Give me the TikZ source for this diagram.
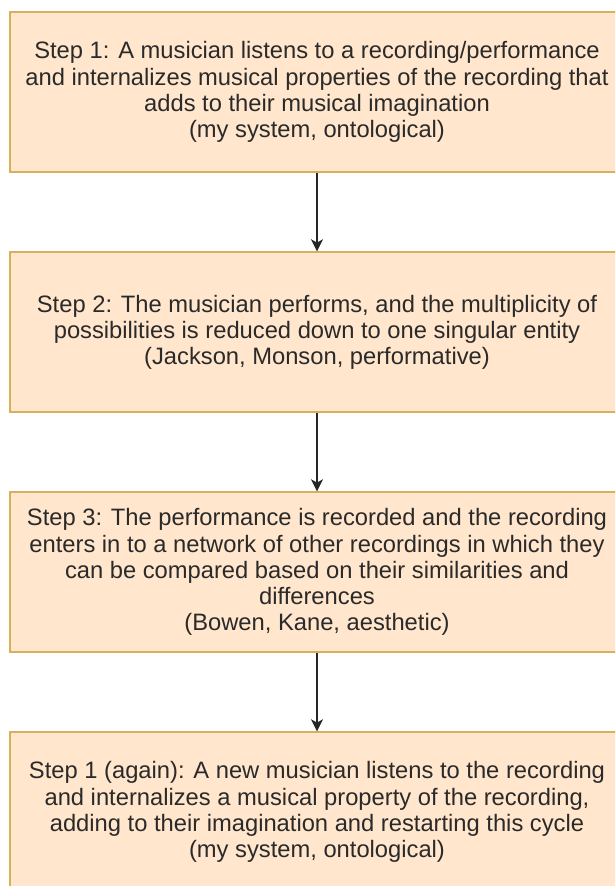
\documentclass[tikz,border=0pt]{standalone}
\usepackage{fontspec}
\setmainfont{Liberation Sans}
\usetikzlibrary{arrows.meta}
\definecolor{boxfill}{HTML}{FFE6CC}
\definecolor{boxline}{HTML}{D6B05A}
\definecolor{txt}{HTML}{2A2A2A}
\tikzset{
  stepbox/.style={draw=boxline, fill=boxfill, line width=1.1pt, rectangle,
    minimum width=460.5pt, minimum height=120pt, inner sep=0pt, align=center,
    text=txt, font=\fontsize{17.8}{19.6}\selectfont},
  flow/.style={draw=black!85, line width=1.1pt, -{Stealth[length=9pt,width=9pt,inset=2.5pt]}}
}
\begin{document}
\begin{tikzpicture}[x=0.75pt,y=-0.75pt]
\useasboundingbox (0,0) rectangle (615,886);
\clip (0,0) rectangle (615,886);
\fill[white] (0,0) rectangle (615,886);
\node[stepbox] (s1) at (317,92) {Step 1: A musician listens to a recording/performance\\and internalizes musical properties of the recording that\\adds to their musical imagination\\(my system, ontological)};
\node[stepbox] (s2) at (317,332) {Step 2: The musician performs, and the multiplicity of\\possibilities is reduced down to one singular entity\\(Jackson, Monson, performative)};
\node[stepbox] (s3) at (317,572) {Step 3: The performance is recorded and the recording\\enters in to a network of other recordings in which they\\can be compared based on their similarities and\\differences\\(Bowen, Kane, aesthetic)};
\node[stepbox] (s4) at (317,812) {Step 1 (again): A new musician listens to the recording\\and internalizes a musical property of the recording,\\adding to their imagination and restarting this cycle\\(my system, ontological)};
\draw[flow] (s1) -- (s2);
\draw[flow] (s2) -- (s3);
\draw[flow] (s3) -- (s4);
\end{tikzpicture}
\end{document}
